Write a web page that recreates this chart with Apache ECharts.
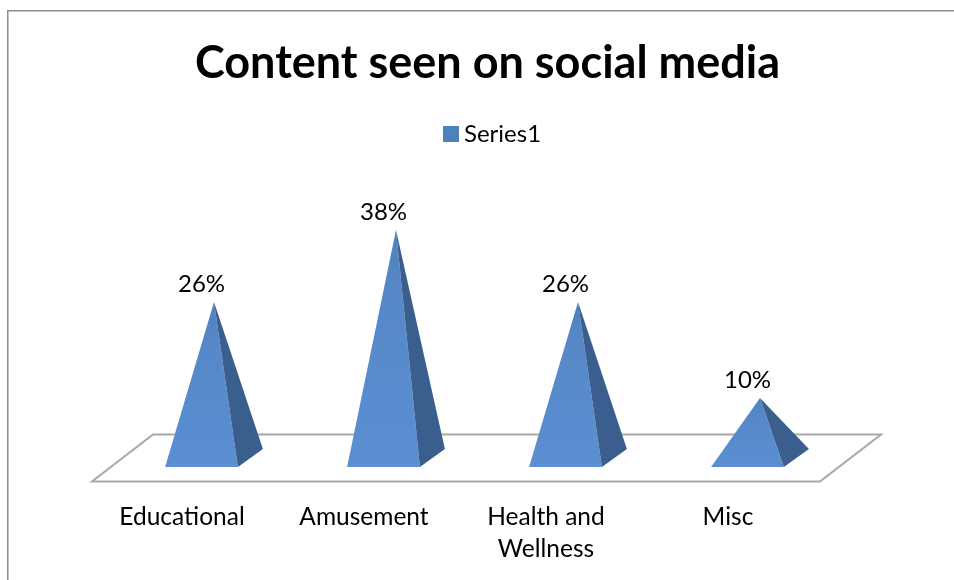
<!DOCTYPE html>
<html>
<head>
<meta charset="utf-8">
<style>html,body{margin:0;padding:0;background:#fff}#c{width:954px;height:580px}</style>
<script src="https://cdn.jsdelivr.net/npm/echarts@6/dist/echarts.min.js"></script>
</head>
<body>
<div id="c"></div>
<script>
const categories = ['Educational', 'Amusement', 'Health and\nWellness', 'Misc'];
const values = [26, 38, 26, 10];
const seriesName = 'Series1';
const chart = echarts.init(document.getElementById('c'), null, {renderer: 'canvas'});
const FONT = 'Lato';
function floorItem(params, api) {
  const g = params.coordSys;
  const y0 = api.coord([0, 0])[1];
  const dx = 30.5, dy = 23.5;
  return {
    type: 'polygon', silent: true,
    shape: {points: [
      [g.x, y0 + dy], [g.x + g.width, y0 + dy],
      [g.x + g.width + 2 * dx, y0 - dy], [g.x + 2 * dx, y0 - dy]
    ]},
    style: {fill: '#ffffff', stroke: '#a8a8a8', lineWidth: 2}
  };
}
function pyramidItem(params, api) {
  const p = api.coord([api.value(0), api.value(1)]);
  const base = api.coord([api.value(0), 0]);
  const band = api.size([1, 0])[0];
  const hw = band * 0.2;
  const dx = 31, ddx = 12.5, ddy = 9;
  const cx = base[0] + dx, cy = base[1];
  const fl = [cx - hw - ddx, cy + ddy], fr = [cx + hw - ddx, cy + ddy], br = [cx + hw + ddx, cy - ddy];
  const apex = [cx, p[1]];
  return {
    type: 'group',
    children: [
      {type: 'polygon', shape: {points: [fl, fr, apex]}, style: {fill: new echarts.graphic.LinearGradient(0, 0, 0, 1, [{offset: 0, color: '#4f81bd'}, {offset: 0.25, color: '#5688c8'}, {offset: 1, color: '#5b8fd2'}])}},
      {type: 'polygon', shape: {points: [fr, br, apex]}, style: {fill: '#3a5f8f'}},
      {type: 'text', style: {x: apex[0] - 12.5, y: apex[1] - 6, text: api.value(1) + '%', fill: '#000', font: '24px ' + FONT, align: 'center', verticalAlign: 'bottom'}}
    ]
  };
}
chart.setOption({
  animation: false,
  backgroundColor: '#fff',
  graphic: [
    {type: 'polyline', silent: true, shape: {points: [[7.8, 580], [7.8, 10.8], [954, 10.8]]}, style: {stroke: '#8c8c8c', lineWidth: 1.5, fill: null}}
  ],
  title: {text: 'Content seen on social media', left: 482.5, top: 36, textAlign: 'center',
    textStyle: {fontFamily: FONT, fontWeight: 'bold', fontSize: 45, color: '#000'}},
  legend: {data: [seriesName], left: 438, top: 117, icon: 'rect', itemWidth: 16, itemHeight: 16, itemGap: 6,
    textStyle: {fontFamily: FONT, fontSize: 24, color: '#000'}},
  grid: {left: 92, right: 134, top: 218, bottom: 122},
  xAxis: {type: 'category', data: categories, axisLine: {show: false}, axisTick: {show: false},
    axisLabel: {color: '#000', fontFamily: FONT, fontSize: 24.5, margin: 43, lineHeight: 32, padding: [0, 2, 0, 0]}},
  yAxis: {type: 'value', min: 0, max: 40, show: false, splitLine: {show: false}},
  series: [
    {type: 'custom', name: 'floor', renderItem: floorItem, data: [[0, 0]], z: 1, silent: true, legendHoverLink: false},
    {type: 'custom', name: seriesName, renderItem: pyramidItem, z: 2, itemStyle: {color: '#4f81bd'},
      encode: {x: 0, y: 1}, data: values.map((v, i) => [i, v])}
  ]
});
</script>
</body>
</html>
